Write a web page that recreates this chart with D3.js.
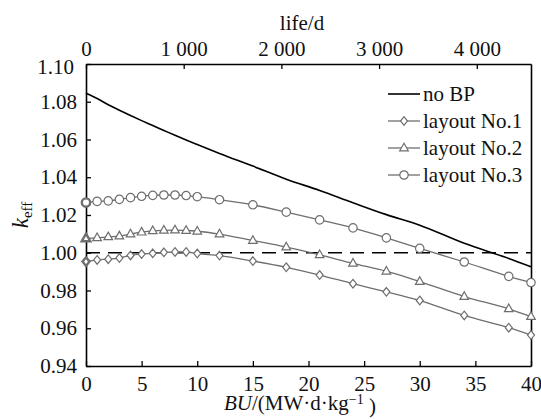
<!DOCTYPE html>
<html>
<head>
<meta charset="utf-8">
<script src="https://cdn.jsdelivr.net/npm/d3@7"></script>
</head>
<body style="margin:0;padding:0;background:#fff">
<svg id="chart" width="541" height="419" style="display:block"></svg>
<script>
// Burnup steps (MW·d/kg)
const burnup = [0, 1, 2, 3, 4, 5, 6, 7, 8, 9, 10, 12, 15, 18, 21, 24, 27, 30, 34, 38, 40];

// k_eff per case
const noBP = [1.0845, 1.0817, 1.0784, 1.0755, 1.0727, 1.0700, 1.0674, 1.0648, 1.0622, 1.0597, 1.0573,
              1.0526, 1.0459, 1.0390, 1.0330, 1.0265, 1.0202, 1.0146, 1.0050, 0.9970, 0.9926];
const layout1 = [0.9953, 0.9962, 0.9966, 0.9972, 0.9986, 0.9993, 0.9997, 1.0002, 1.0004, 1.0004, 0.9996,
                 0.9985, 0.9956, 0.9923, 0.9882, 0.9836, 0.9793, 0.9747, 0.9668, 0.9603, 0.9564];
const layout2 = [1.0076, 1.0079, 1.0084, 1.0088, 1.0099, 1.0109, 1.0116, 1.0119, 1.0120, 1.0118, 1.0114,
                 1.0099, 1.0065, 1.0030, 0.9989, 0.9944, 0.9902, 0.9847, 0.9768, 0.9703, 0.9662];
const layout3 = [1.0266, 1.0272, 1.0275, 1.0283, 1.0292, 1.0299, 1.0304, 1.0306, 1.0306, 1.0303, 1.0297,
                 1.0281, 1.0254, 1.0215, 1.0174, 1.0132, 1.0079, 1.0023, 0.9951, 0.9875, 0.9842];

const seriesNames = ["no BP", "layout No.1", "layout No.2", "layout No.3"];

// Axis ticks
const buTicks = [0, 5, 10, 15, 20, 25, 30, 35, 40];
const lifeTicks = [0, 1000, 2000, 3000, 4000];
const lifeTickLabels = ["0", "1 000", "2 000", "3 000", "4 000"];
const keffTicks = [0.94, 0.96, 0.98, 1.00, 1.02, 1.04, 1.06, 1.08, 1.10];
const criticalLevel = 1.0;
const lifeMax = 4555; // days at end of cycle (40 MW·d/kg)

const FONT = "Liberation Serif";
const FS = 21;
const grey = "#6e6e6e";

const svg = d3.select("#chart").attr("font-family", FONT);
const margin = { top: 64, right: 10, bottom: 53, left: 86 };
const W = 541, H = 419;
const iw = W - margin.left - margin.right;
const ih = H - margin.top - margin.bottom;

const x = d3.scaleLinear().domain([0, 40]).range([0, iw]);
const xTop = d3.scaleLinear().domain([0, lifeMax]).range([0, iw]);
const y = d3.scaleLinear().domain([0.94, 1.10]).range([ih, 0]);

const g = svg.append("g").attr("transform", `translate(${margin.left},${margin.top})`);

// Bottom axis
const xAxis = g.append("g").attr("transform", `translate(0,${ih})`)
  .call(d3.axisBottom(x).tickValues(buTicks).tickSizeInner(-5).tickSizeOuter(0).tickPadding(10).tickFormat(d3.format("d")));
// Top axis
const xAxisTop = g.append("g")
  .call(d3.axisTop(xTop).tickValues(lifeTicks).tickSizeInner(-5).tickSizeOuter(0).tickPadding(10)
    .tickFormat((d, i) => lifeTickLabels[i]));
// Left axis
const yAxis = g.append("g")
  .call(d3.axisLeft(y).tickValues(keffTicks).tickSizeInner(-5).tickSizeOuter(0).tickPadding(9).tickFormat(d3.format(".2f")));
// Right frame line
const yAxisRight = g.append("g").attr("transform", `translate(${iw},0)`)
  .call(d3.axisRight(y).tickValues([]).tickSizeOuter(0));

[xAxis, xAxisTop, yAxis, yAxisRight].forEach(a => {
  a.attr("font-family", FONT).attr("font-size", FS);
  a.select(".domain").attr("stroke", "#000").attr("stroke-width", 1.6);
  a.selectAll(".tick line").attr("stroke", "#000").attr("stroke-width", 1.3);
  a.selectAll(".tick text").attr("fill", "#111").attr("font-family", FONT).attr("font-size", FS);
});
// Corner label: nudge the 1.10 label a little outward
yAxis.selectAll(".tick text").filter(d => d === 1.10).attr("dy", "0.45em").attr("x", -12);
xAxisTop.selectAll(".tick text").attr("dy", "0.1em");

// Critical reference line
g.append("line")
  .attr("x1", x(0)).attr("x2", x(40))
  .attr("y1", y(criticalLevel)).attr("y2", y(criticalLevel))
  .attr("stroke", "#000").attr("stroke-width", 1.5).attr("stroke-dasharray", "14,8");

const line = d3.line().x((d, i) => x(burnup[i])).y(d => y(d)).curve(d3.curveMonotoneX);

// no BP curve
g.append("path").datum(noBP).attr("d", line)
  .attr("fill", "none").attr("stroke", "#000").attr("stroke-width", 1.6);

// Marker shapes
function markerPath(kind) {
  if (kind === "diamond") return "M0,-4.3L3.5,0L0,4.3L-3.5,0Z";
  if (kind === "triangle") return "M0,-4.8L4.3,2.8L-4.3,2.8Z";
  return d3.symbol().type(d3.symbolCircle).size(Math.PI * 4.2 * 4.2)();
}

const layouts = [
  { values: layout1, kind: "diamond" },
  { values: layout2, kind: "triangle" },
  { values: layout3, kind: "circle" }
];

layouts.forEach(s => {
  g.append("path").datum(s.values).attr("d", line)
    .attr("fill", "none").attr("stroke", grey).attr("stroke-width", 1.3);
});
layouts.forEach(s => {
  g.append("g").selectAll("path").data(s.values).join("path")
    .attr("transform", (d, i) => `translate(${x(burnup[i])},${y(d)})`)
    .attr("d", markerPath(s.kind))
    .attr("fill", "#fff").attr("stroke", grey)
    .attr("stroke-width", (d, i) => i === 0 ? 2.4 : 1.2);
});

// Legend
const legend = svg.append("g").attr("transform", "translate(388,94)");
seriesNames.forEach((name, i) => {
  const row = legend.append("g").attr("transform", `translate(0,${i * 27})`);
  row.append("line").attr("x1", 0).attr("x2", 32).attr("y1", 0).attr("y2", 0)
    .attr("stroke", i === 0 ? "#000" : grey).attr("stroke-width", i === 0 ? 1.6 : 1.3);
  if (i > 0) {
    row.append("path").attr("transform", "translate(16,0)")
      .attr("d", markerPath(layouts[i - 1].kind))
      .attr("fill", "#fff").attr("stroke", grey).attr("stroke-width", 1.2);
  }
  row.append("text").attr("x", 35).attr("y", 0).attr("dy", "0.32em")
    .attr("font-family", FONT).attr("font-size", FS).attr("fill", "#111").text(name);
});

// Axis titles
const bx = svg.append("text").attr("x", 300).attr("y", 410).attr("text-anchor", "middle")
  .attr("font-family", FONT).attr("font-size", FS).attr("fill", "#111");
bx.append("tspan").attr("font-style", "italic").text("BU");
bx.append("tspan").text("/(MW·d·kg");
bx.append("tspan").attr("dy", "-0.45em").attr("font-size", 14).text("−1");
bx.append("tspan").attr("dy", "0.45em").text(" )");

svg.append("text").attr("x", 302).attr("y", 30).attr("text-anchor", "middle")
  .attr("font-family", FONT).attr("font-size", FS).attr("fill", "#111").text("life/d");

const ky = svg.append("text").attr("transform", "translate(28,215) rotate(-90)")
  .attr("text-anchor", "middle").attr("font-family", FONT).attr("font-size", 23).attr("fill", "#111");
ky.append("tspan").attr("font-style", "italic").text("k");
ky.append("tspan").attr("dy", "0.25em").attr("font-size", 15).text("eff");
</script>
</body>
</html>
